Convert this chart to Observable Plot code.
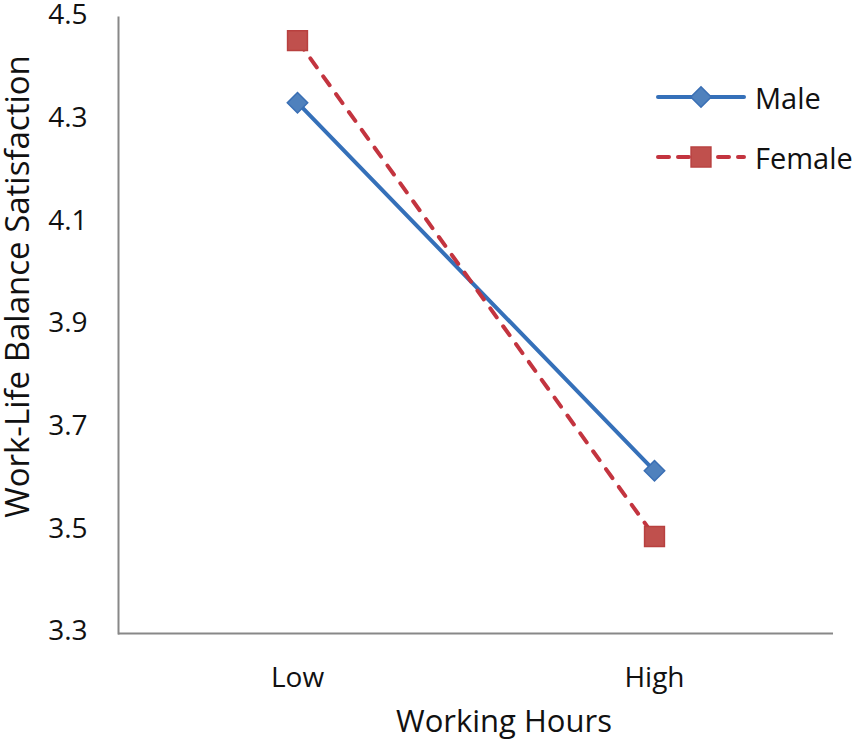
<!DOCTYPE html>
<html>
<head>
<meta charset="utf-8">
<script src="https://cdn.jsdelivr.net/npm/d3@7"></script>
<script src="https://cdn.jsdelivr.net/npm/@observablehq/plot@0.6"></script>
<style>
  html, body { margin: 0; padding: 0; background: #fff; }
  #wrap { position: relative; width: 855px; height: 744px; font-family: "Open Sans", sans-serif; }
  #legend { position: absolute; left: 655px; top: 67px; font-size: 29px; color: #111; }
  .row { display: flex; align-items: center; height: 60px; }
  .row svg { margin-right: 8px; }
</style>
</head>
<body>
<div id="wrap">
  <div id="chart"></div>
  <div id="legend"></div>
</div>
<script>
const hours = ["Low", "High"];
const seriesNames = ["Male", "Female"];
const maleValues = [4.334, 3.617];
const femaleValues = [4.455, 3.489];
const yTicks = [3.3, 3.5, 3.7, 3.9, 4.1, 4.3, 4.5];
const xTitle = "Working Hours";
const yTitle = "Work-Life Balance Satisfaction";

const styles = {
  Male: {line: "#3570b9", fill: "#4f81bd", stroke: "#3a6fb4", symbol: "diamond2", r: 9.2, dash: null, legendDash: null},
  Female: {line: "#c3343f", fill: "#c0504d", stroke: "#b8403f", symbol: "square", r: 11.2, dash: "11,11", legendDash: "11,9"}
};

const rows = [];
hours.forEach((h, i) => {
  rows.push({hours: h, series: "Male", value: maleValues[i]});
  rows.push({hours: h, series: "Female", value: femaleValues[i]});
});

const marks = [
  Plot.ruleY([3.3], {stroke: "#888", strokeWidth: 2}),
  Plot.frame({anchor: "left", stroke: "#888", strokeWidth: 2}),
  Plot.axisY({ticks: yTicks, tickFormat: d3.format(".1f"), tickSize: 0, tickPadding: 31, dy: -2, label: null}),
  Plot.text([xTitle], {frameAnchor: "bottom", textAnchor: "middle", lineAnchor: "middle",
    dx: 28, dy: 89, fontSize: 31, fill: "#111"}),
  Plot.text([yTitle], {frameAnchor: "left", textAnchor: "middle", lineAnchor: "middle",
    rotate: -90, dx: -100, dy: -39, fontSize: 33, fill: "#111"})
];
for (const s of seriesNames) {
  const st = styles[s];
  const d = rows.filter(r => r.series === s);
  marks.push(Plot.line(d, {x: "hours", y: "value", stroke: st.line, strokeWidth: 4,
    strokeDasharray: st.dash, strokeLinecap: "round"}));
}
for (const s of seriesNames) {
  const st = styles[s];
  const d = rows.filter(r => r.series === s);
  marks.push(Plot.dot(d, {x: "hours", y: "value", symbol: () => st.symbol, r: st.r,
    fill: st.fill, stroke: st.stroke, strokeWidth: 1.5}));
}

const chart = Plot.plot({
  width: 855,
  height: 744,
  marginLeft: 118,
  marginRight: 22,
  marginTop: 17,
  marginBottom: 111,
  style: {fontFamily: "Open Sans, sans-serif", fontSize: "28px", color: "#111", background: "#fff", overflow: "visible"},
  symbol: {type: "identity"},
  x: {type: "point", domain: hours, padding: 0.5, label: null, tickSize: 0, tickPadding: 34},
  y: {domain: [3.3, 4.5], label: null},
  marks
});
document.getElementById("chart").appendChild(chart);

// legend
const legend = document.getElementById("legend");
for (const s of seriesNames) {
  const st = styles[s];
  const row = document.createElement("div");
  row.className = "row";
  const svg = d3.create("svg").attr("width", 92).attr("height", 30);
  svg.append("line").attr("x1", 3).attr("x2", 89).attr("y1", 15).attr("y2", 15)
    .attr("stroke", st.line).attr("stroke-width", 4).attr("stroke-linecap", "round")
    .attr("stroke-dasharray", st.legendDash);
  const sym = st.symbol === "square" ? d3.symbolSquare : d3.symbolDiamond2;
  svg.append("path").attr("transform", "translate(46,15)")
    .attr("d", d3.symbol(sym, Math.PI * st.r * st.r)())
    .attr("fill", st.fill).attr("stroke", st.stroke).attr("stroke-width", 1.5);
  row.appendChild(svg.node());
  const t = document.createElement("span");
  t.textContent = s;
  row.appendChild(t);
  legend.appendChild(row);
}
</script>
</body>
</html>
